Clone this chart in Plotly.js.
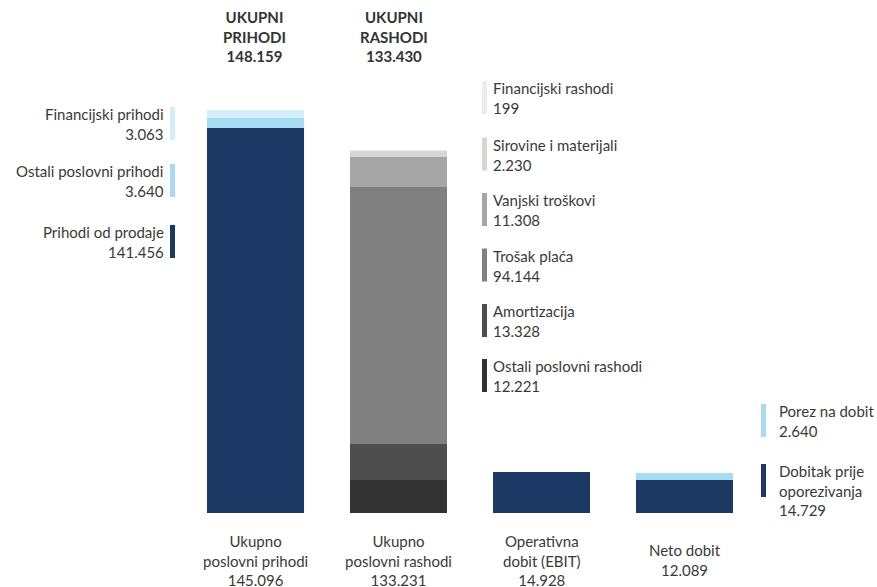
<!DOCTYPE html>
<html>
<head>
<meta charset="utf-8">
<script src="https://cdn.plot.ly/plotly-3.0.1.min.js"></script>
<style>html,body{margin:0;padding:0;background:#fff;}#chart{width:877px;height:587px;}</style>
</head>
<body>
<div id="chart"></div>
<script>
// ---- data ----
var categories = ["Ukupno poslovni prihodi", "Ukupno poslovni rashodi", "Operativna dobit (EBIT)", "Neto dobit"];
var categoryLabels = ["Ukupno<br>poslovni prihodi<br>145.096", "Ukupno<br>poslovni rashodi<br>133.231", "Operativna<br>dobit (EBIT)<br>14.928", "Neto dobit<br>12.089"];

var prihodiOdProdaje = [141.456, null, null, null];
var ostaliPoslovniPrihodi = [3.640, null, null, null];
var financijskiPrihodi = [3.063, null, null, null];

var ostaliPoslovniRashodi = [null, 12.221, null, null];
var amortizacija = [null, 13.328, null, null];
var trosakPlaca = [null, 94.144, null, null];
var vanjskiTroskovi = [null, 11.308, null, null];
var sirovineMaterijali = [null, 2.230, null, null];
var financijskiRashodi = [null, 0.199, null, null];

var operativnaDobit = [null, null, 14.928, null];
var netoDobit = [null, null, null, 12.089];
var porezNaDobit = [null, null, null, 2.640];

var topTitles = ["UKUPNI<br>PRIHODI<br>148.159", "UKUPNI<br>RASHODI<br>133.430"];

var legendLeft = [
  {name: "Financijski prihodi", value: "3.063", color: "#d3eefa"},
  {name: "Ostali poslovni prihodi", value: "3.640", color: "#a6dbf4"},
  {name: "Prihodi od prodaje", value: "141.456", color: "#1b3964"}
];
var legendMid = [
  {name: "Financijski rashodi", value: "199", color: "#ececec"},
  {name: "Sirovine i materijali", value: "2.230", color: "#d6d6d6"},
  {name: "Vanjski troškovi", value: "11.308", color: "#a6a6a6"},
  {name: "Trošak plaća", value: "94.144", color: "#808080"},
  {name: "Amortizacija", value: "13.328", color: "#4e4e4e"},
  {name: "Ostali poslovni rashodi", value: "12.221", color: "#333333"}
];
var legendRight = [
  {name: "Porez na dobit", value: "2.640", color: "#a6dbf4"},
  {name: "Dobitak prije<br>oporezivanja", value: "14.729", color: "#1b3964"}
];

// ---- layout helpers ----
var W = 877, Hh = 587, mL = 184, mR = 121, mT = 60, mB = 74;
var pw = W - mL - mR, ph = Hh - mT - mB;
function px(x){ return (x - mL) / pw; }
function py(y){ return (Hh - mB - y) / ph; }

var NAVY = "#1b3964", LB = "#a6dbf4", VLB = "#d3eefa";
function tr(name, y, color){
  return {type: "bar", x: categories, y: y, name: name, marker: {color: color, line: {width: 0}}, hoverinfo: "name+y"};
}
var data = [
  tr("Prihodi od prodaje", prihodiOdProdaje, NAVY),
  tr("Ostali poslovni prihodi", ostaliPoslovniPrihodi, LB),
  tr("Financijski prihodi", financijskiPrihodi, VLB),
  tr("Ostali poslovni rashodi", ostaliPoslovniRashodi, "#333333"),
  tr("Amortizacija", amortizacija, "#4e4e4e"),
  tr("Trošak plaća", trosakPlaca, "#808080"),
  tr("Vanjski troškovi", vanjskiTroskovi, "#a6a6a6"),
  tr("Sirovine i materijali", sirovineMaterijali, "#d6d6d6"),
  tr("Financijski rashodi", financijskiRashodi, "#ececec"),
  tr("Operativna dobit (EBIT)", operativnaDobit, NAVY),
  tr("Neto dobit", netoDobit, NAVY),
  tr("Porez na dobit", porezNaDobit, LB)
];

var TXT = "#3a3a3a";
var FONT = "Lato, 'Open Sans', sans-serif";
var FS = 15;
var annotations = [], shapes = [];

// top titles
var titleX = [254.5, 394];
topTitles.forEach(function(t, i){
  annotations.push({xref: "paper", yref: "paper", x: px(titleX[i]), y: py(6), xanchor: "center", yanchor: "top",
    text: "<b>" + t + "</b>", showarrow: false, font: {size: FS, color: "#333"}, align: "center"});
});

// bottom category labels
categories.forEach(function(c, i){
  annotations.push({xref: "x", yref: "paper", x: c, y: py(560), xanchor: "center", yanchor: "middle",
    text: categoryLabels[i], showarrow: false, font: {size: FS, color: TXT}, align: "center"});
});

function legendItem(item, mx, top, textX, side){
  shapes.push({type: "rect", xref: "paper", yref: "paper", x0: px(mx), x1: px(mx + 5), y0: py(top), y1: py(top + 33),
    fillcolor: item.color, line: {width: 0}, layer: "above"});
  annotations.push({xref: "paper", yref: "paper", x: px(textX), y: py(top - 4), xanchor: side, yanchor: "top",
    text: item.name + "<br>" + item.value, showarrow: false, font: {size: FS, color: TXT}, align: side});
}
var leftTops = [107, 164, 225];
legendLeft.forEach(function(it, i){ legendItem(it, 170, leftTops[i], 166, "right"); });
var midTops = [81, 137.5, 193, 248.5, 304, 359];
legendMid.forEach(function(it, i){ legendItem(it, 482, midTops[i], 491, "left"); });
var rightTops = [404, 464];
legendRight.forEach(function(it, i){ legendItem(it, 761, rightTops[i], 777, "left"); });

var layout = {
  width: W, height: Hh,
  margin: {l: mL, r: mR, t: mT, b: mB, pad: 0},
  paper_bgcolor: "#fff", plot_bgcolor: "#fff",
  barmode: "stack", bargap: 0.315,
  showlegend: false,
  font: {family: FONT, size: FS, color: TXT},
  xaxis: {type: "category", showticklabels: false, showgrid: false, zeroline: false, showline: false, ticks: ""},
  yaxis: {range: [0, ph / 2.72], showticklabels: false, showgrid: false, zeroline: false, showline: false, ticks: ""},
  annotations: annotations,
  shapes: shapes
};
Plotly.newPlot("chart", data, layout, {displayModeBar: false, staticPlot: true});
</script>
</body>
</html>
